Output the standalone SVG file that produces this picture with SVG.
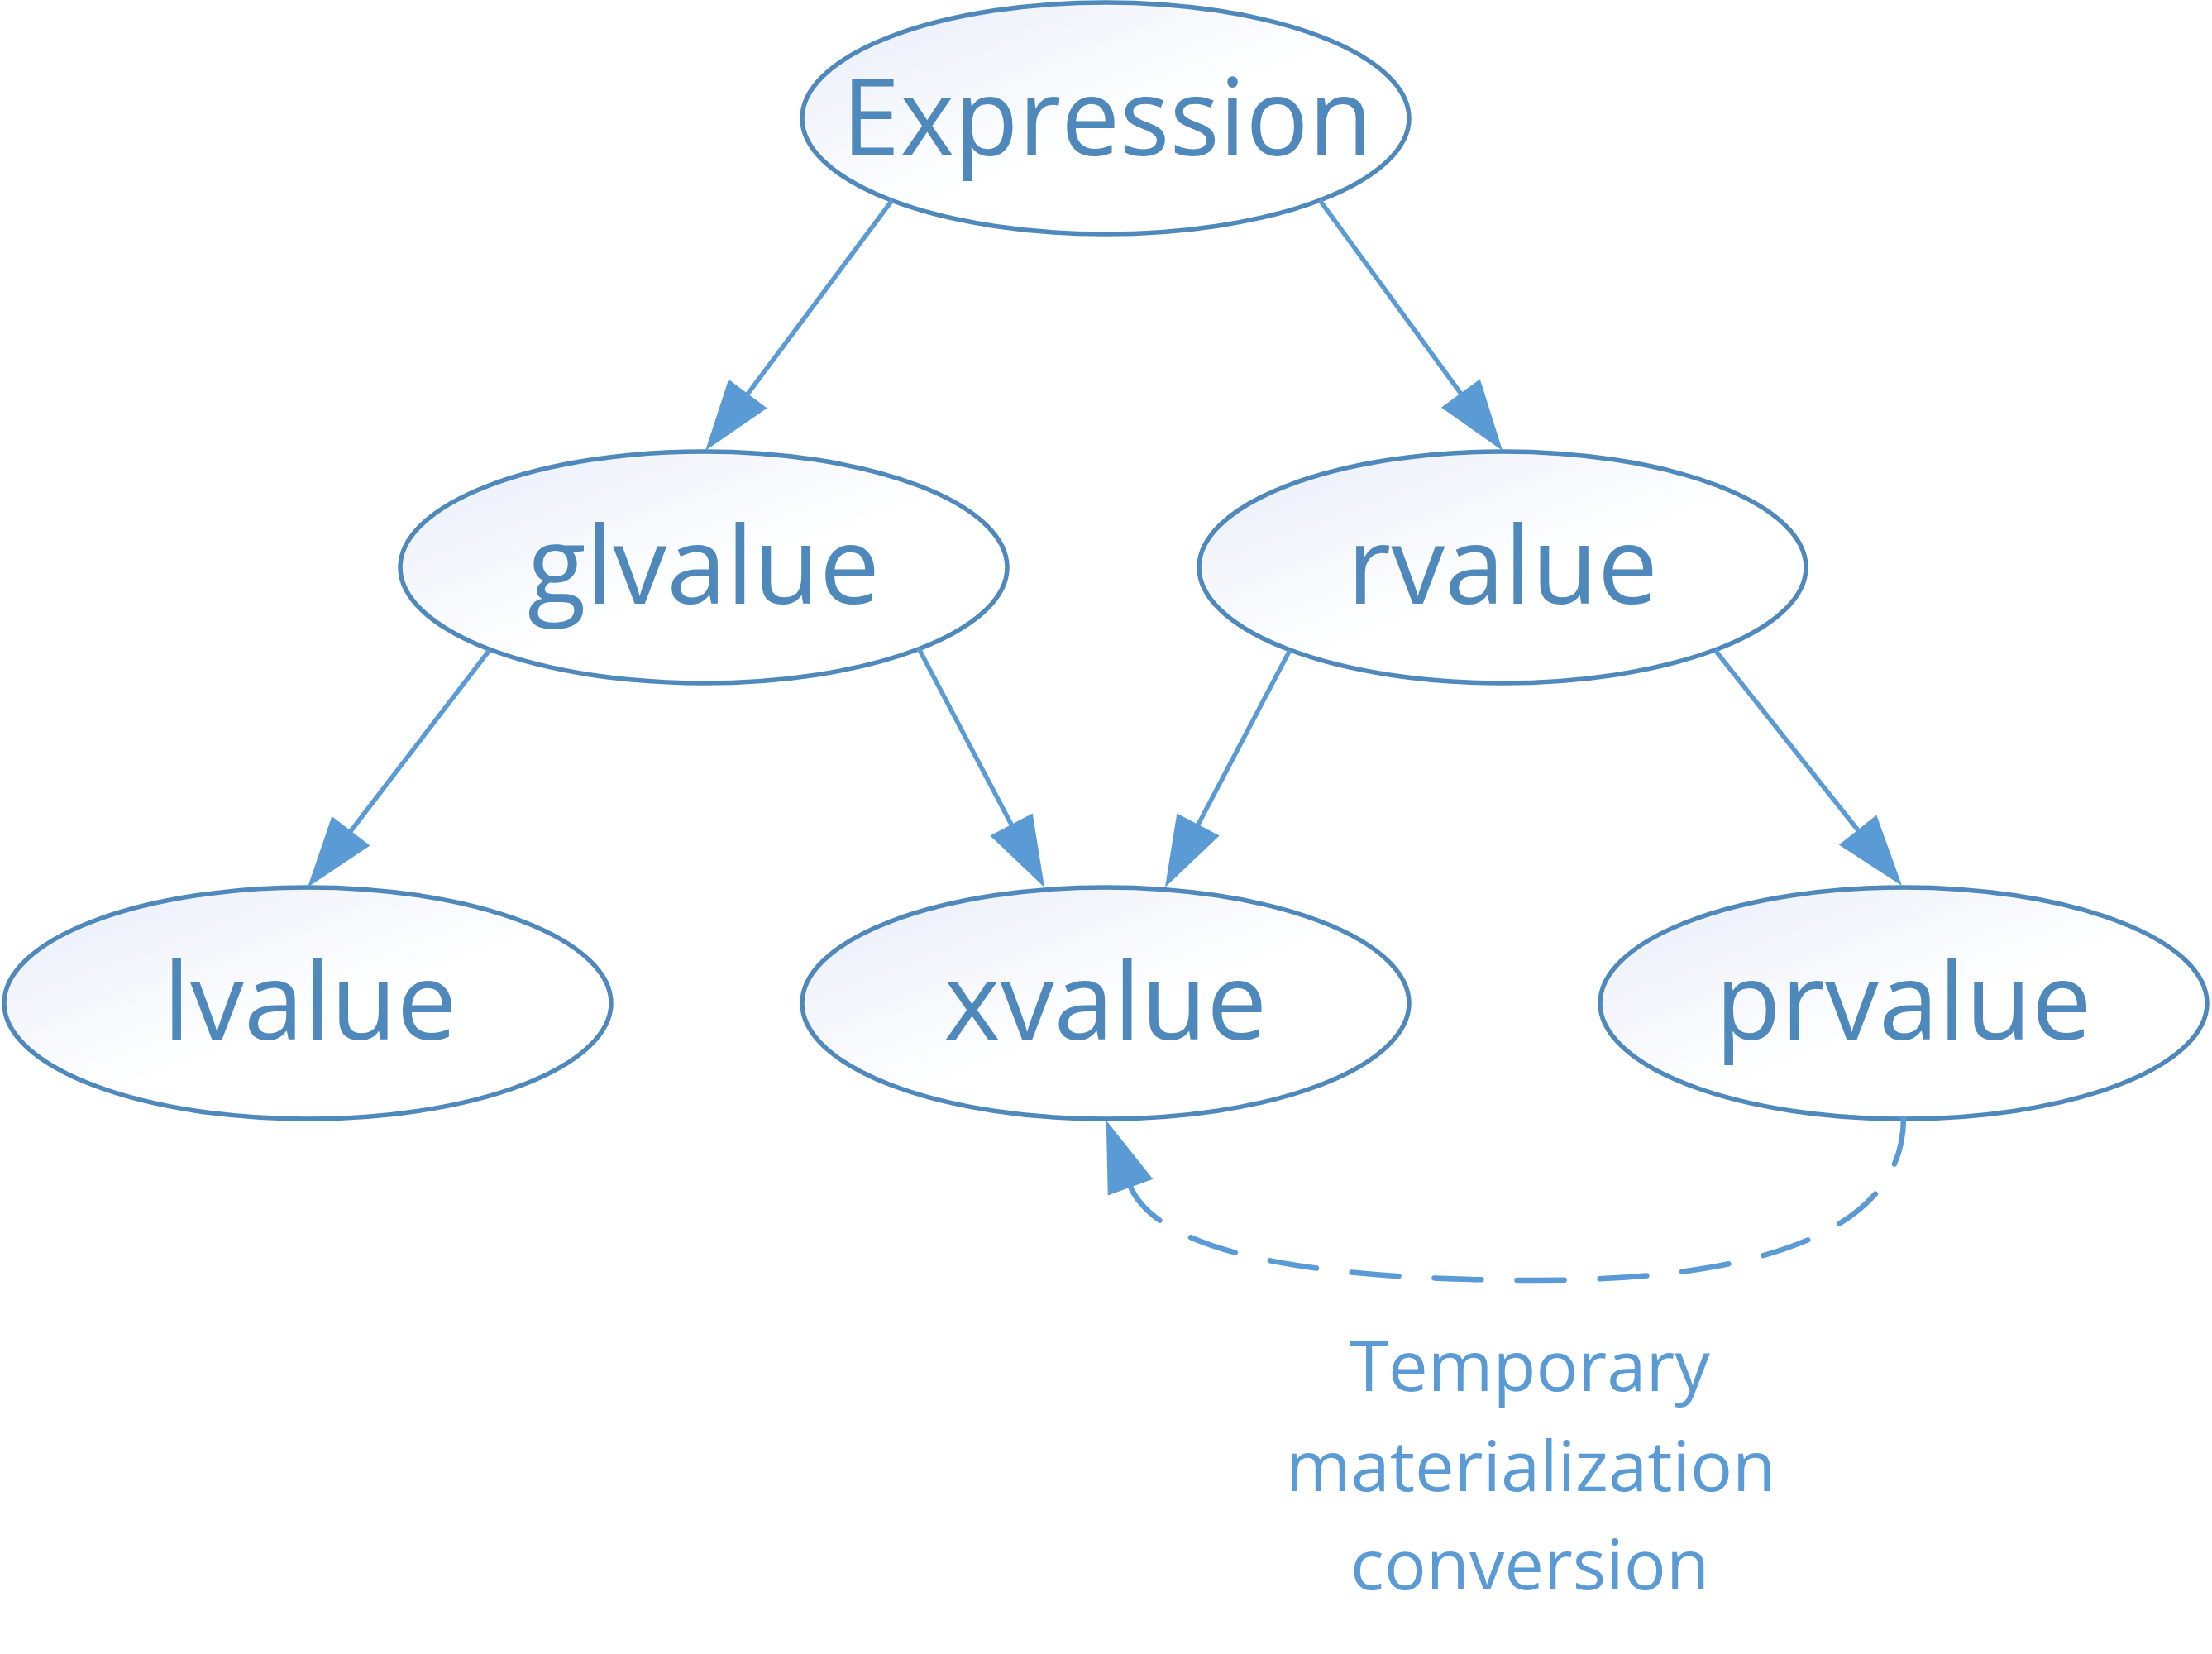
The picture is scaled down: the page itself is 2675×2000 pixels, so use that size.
<svg xmlns="http://www.w3.org/2000/svg" width="2675" height="2000" viewBox="0 0 2675 2000">
<defs>
<linearGradient id="nodeFill" x1="0" y1="0" x2="1" y2="1">
<stop offset="0" stop-color="#E8EDF8"/>
<stop offset="0.55" stop-color="#FFFFFF"/>
<stop offset="1" stop-color="#FFFFFF"/>
</linearGradient>
<marker id="arrow" viewBox="-8 -31 90 62" markerWidth="90" markerHeight="62" refX="0" refY="0" orient="auto" markerUnits="userSpaceOnUse">
<path d="M80,0 L-6,-29 L-6,29 Z" fill="#5B9BD5"/>
</marker>
<style>
.node ellipse { fill: url(#nodeFill); stroke: #4F88BB; stroke-width: 5.5; }
.node text { font-family: "Open Sans", "Noto Sans", "DejaVu Sans", sans-serif; font-size: 130px; fill: #4F88BB; text-anchor: middle; }
.edge { fill: none; stroke: #5B9BD5; stroke-width: 5.5; marker-end: url(#arrow); }
.dashed { stroke-width: 6.5; stroke-dasharray: 57 43; stroke-linecap: round; }
.label { font-family: "Open Sans", "Noto Sans", "DejaVu Sans", sans-serif; font-size: 85px; fill: #5B9BD5; text-anchor: middle; }
</style>
</defs>
<rect width="2675" height="2000" fill="#FFFFFF"/>
<g id="node-expression" class="node">
<ellipse cx="1337" cy="143" rx="367" ry="140"/>
<text x="1339" y="188" textLength="642" lengthAdjust="spacingAndGlyphs">Expression</text>
</g>
<g id="node-glvalue" class="node">
<ellipse cx="851" cy="686" rx="367" ry="140"/>
<text x="851" y="730">glvalue</text>
</g>
<g id="node-rvalue" class="node">
<ellipse cx="1817" cy="686" rx="367" ry="140"/>
<text x="1817" y="730">rvalue</text>
</g>
<g id="node-lvalue" class="node">
<ellipse cx="372" cy="1213" rx="367" ry="140"/>
<text x="375" y="1257">lvalue</text>
</g>
<g id="node-xvalue" class="node">
<ellipse cx="1337" cy="1213" rx="367" ry="140"/>
<text x="1337" y="1257">xvalue</text>
</g>
<g id="node-prvalue" class="node">
<ellipse cx="2302" cy="1213" rx="367" ry="140"/>
<text x="2302" y="1257">prvalue</text>
</g>
<g id="connectors">
<path class="edge" d="M1079,242 L900.8,480.9"/>
<path class="edge" d="M1596,242 L1769.9,480.4"/>
<path class="edge" d="M592,786 L420.7,1009.5"/>
<path class="edge" d="M1111,784 L1225.8,1002.2"/>
<path class="edge" d="M1560,786 L1446.2,1002.2"/>
<path class="edge" d="M2074,786 L2250.3,1008.3"/>
<path class="edge dashed" d="M2302,1352 C2302,1500 2100,1548 1860,1548 C1620,1548 1399,1524 1365,1430"/>
</g>
<g id="label-temporary-materialization">
<text class="label" x="1850" y="1682">Temporary</text>
<text class="label" x="1851" y="1803">materialization</text>
<text class="label" x="1850" y="1922">conversion</text>
</g>
</svg>
